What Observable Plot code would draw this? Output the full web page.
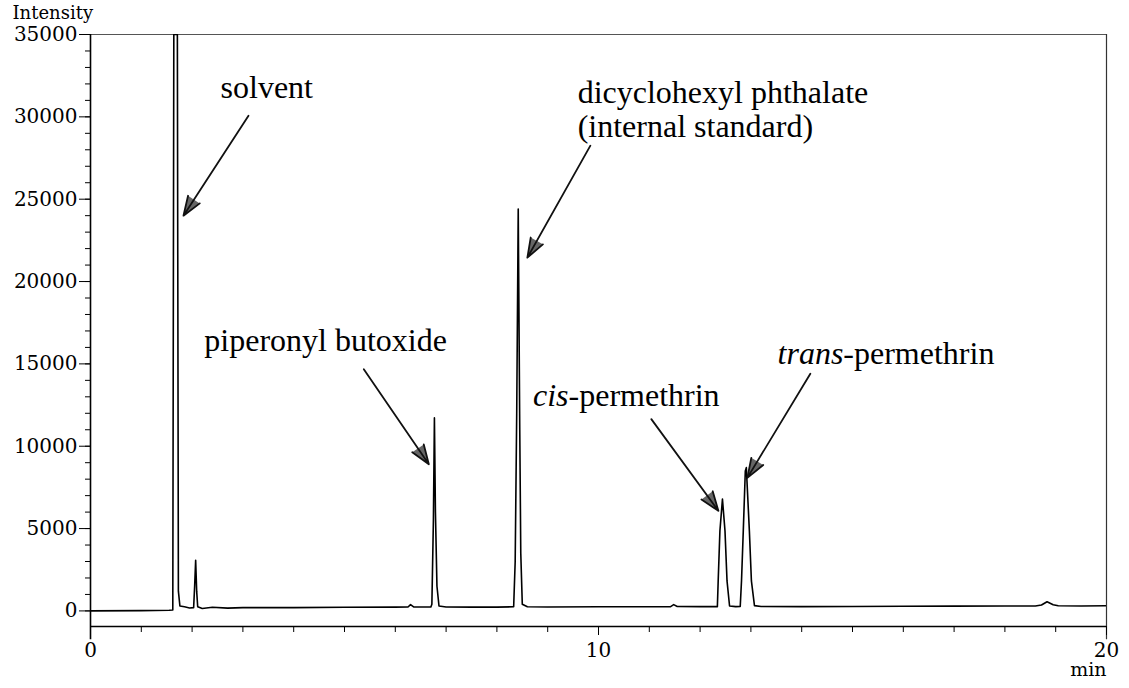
<!DOCTYPE html>
<html>
<head>
<meta charset="utf-8">
<script src="https://cdn.jsdelivr.net/npm/d3@7"></script>
<script src="https://cdn.jsdelivr.net/npm/@observablehq/plot@0.6"></script>
<style>
  html, body { margin: 0; padding: 0; background: #fff; }
  #chart svg { display: block; }
</style>
</head>
<body>
<div id="chart"></div>
<script>
// ---- chromatogram trace (retention time in min, intensity) ----
const time = [0, 1.0, 1.55, 1.62, 1.64, 1.71, 1.73, 1.76, 1.85, 1.95, 2.03, 2.05, 2.07, 2.09, 2.11, 2.2, 2.4, 2.7, 3.0, 4.0, 5.0, 6.0,
  6.25, 6.30, 6.36, 6.70, 6.72, 6.75, 6.77, 6.79, 6.82, 6.86, 7.0, 7.5, 8.0,
  8.33, 8.36, 8.39, 8.42, 8.45, 8.47, 8.50, 8.6, 9.0, 10.0, 11.0, 11.42, 11.48, 11.55, 12.0,
  12.34, 12.356, 12.39, 12.44, 12.49, 12.53, 12.58, 12.70,
  12.79, 12.815, 12.85, 12.89, 12.91, 12.97, 13.01, 13.07, 13.2,
  14.0, 15.0, 16.0, 17.0, 18.0, 18.6, 18.72, 18.83, 18.95, 19.05, 19.5, 20.0];
const intensity = [0, 20, 40, 60, 35000, 35000, 1200, 300, 250, 180, 200, 1500, 3080, 1200, 250, 150, 220, 170, 200, 200, 220, 230,
  240, 380, 240, 240, 400, 5500, 11720, 6000, 1500, 300, 240, 230, 230,
  250, 3000, 12000, 24400, 11000, 3500, 400, 250, 240, 250, 250, 260, 380, 270, 260,
  260, 1820, 4860, 6790, 4860, 1820, 300, 260,
  270, 1820, 4860, 8500, 8700, 4860, 1820, 320, 270,
  260, 270, 280, 290, 300, 300, 360, 560, 380, 310, 300, 310];

// ---- axes ----
const yTicks = [0, 5000, 10000, 15000, 20000, 25000, 30000, 35000];
const yMinorTicks = d3.range(0, 35001, 1000);
const xTicks = [0, 10, 20];
const xMinorTicks = d3.range(0, 21, 1);
const yAxisTitle = "Intensity";
const xAxisTitle = "min";

// ---- annotations (label anchor in data units: time, intensity) ----
const labelText = ["solvent", "dicyclohexyl phthalate\n(internal standard)", "piperonyl butoxide"];
const labelTime = [2.56, 9.59, 2.24];
const labelIntensity = [31165, 28800, 15800];

const italicPrefix = ["cis", "trans"];
const italicRest = ["-permethrin", "-permethrin"];
const italicSplitTime = [9.41, 14.82];
const italicIntensity = [12450, 15000];

const arrowTime1 = [3.11, 9.84, 5.38, 11.04, 14.17];
const arrowInt1 = [30070, 28250, 14680, 11645, 14400];
const arrowTime2 = [1.83, 8.60, 6.66, 12.36, 12.93];
const arrowInt2 = [24000, 21450, 8910, 6075, 8080];

// ---- build tables ----
const trace = time.map((t, i) => ({t, v: intensity[i]}));
const labels = labelText.map((s, i) => ({s, x: labelTime[i], y: labelIntensity[i]}));
const italics = italicPrefix.map((p, i) => ({p, r: italicRest[i], x: italicSplitTime[i], y: italicIntensity[i]}));
const arrows = arrowTime1.map((x1, i) => ({x1, y1: arrowInt1[i], x2: arrowTime2[i], y2: arrowInt2[i]}));

const serif = "'Liberation Serif', 'Times New Roman', serif";
const axisFont = "'DejaVu Serif', serif";

const plot = Plot.plot({
  width: 1129,
  height: 688,
  marginLeft: 90,
  marginRight: 23,
  marginTop: 34,
  marginBottom: 62,
  x: {domain: [0, 20]},
  y: {domain: [-946, 35000]},
  style: {fontFamily: axisFont, fontSize: "20px", color: "#000", background: "#fff"},
  marks: [
    // frame lines
    Plot.ruleY([35000], {x1: 0, x2: 20, stroke: "#555", strokeWidth: 1.2}),
    Plot.ruleX([20], {y1: -1750, y2: 35000, stroke: "#333", strokeWidth: 1.2}),
    Plot.ruleX([0], {y1: -1750, y2: 35000, stroke: "#000", strokeWidth: 1.6}),
    Plot.ruleY([-946], {x1: 0, x2: 20, stroke: "#000", strokeWidth: 1.4}),
    // y axis
    Plot.axisY(yMinorTicks, {tickSize: 5, tickFormat: () => "", label: null, stroke: "#000"}),
    Plot.axisY(yTicks, {tickSize: 11, tickPadding: 2, label: null, tickFormat: d => String(d), stroke: "#000", fontFamily: axisFont, fontSize: 20}),
    // x axis
    Plot.axisX(xMinorTicks, {tickSize: 6, tickFormat: () => "", label: null, stroke: "#000"}),
    Plot.axisX(xTicks, {tickSize: 9, tickPadding: 7, label: null, tickFormat: d => String(d), stroke: "#000", fontFamily: axisFont, fontSize: 20}),
    Plot.text([yAxisTitle], {text: d => d, frameAnchor: "top-left", dx: -78, dy: -16, textAnchor: "start", lineAnchor: "bottom", fontFamily: axisFont, fontSize: 18}),
    Plot.text([xAxisTitle], {text: d => d, frameAnchor: "bottom-right", dx: 0, dy: 49, textAnchor: "end", lineAnchor: "bottom", fontFamily: axisFont, fontSize: 19}),
    // chromatogram
    Plot.line(trace, {x: "t", y: "v", stroke: "#000", strokeWidth: 1.6, clip: true, curve: "linear"}),
    // annotations
    Plot.arrow(arrows, {x1: "x1", y1: "y1", x2: "x2", y2: "y2", headLength: 17, headAngle: 40, fill: "#666", stroke: "#111", strokeWidth: 1.8, insetEnd: 0}),
    Plot.text(labels, {x: "x", y: "y", text: "s", textAnchor: "start", lineAnchor: "bottom", lineHeight: 1.06, fontFamily: serif, fontSize: 32, fill: "#000"}),
    Plot.text(italics, {x: "x", y: "y", text: "p", textAnchor: "end", lineAnchor: "bottom", fontStyle: "italic", fontFamily: serif, fontSize: 32, fill: "#000"}),
    Plot.text(italics, {x: "x", y: "y", text: "r", textAnchor: "start", lineAnchor: "bottom", fontFamily: serif, fontSize: 32, fill: "#000"})
  ]
});
// tick labels in the serif face of the original instrument print-out
d3.select(plot).selectAll('g[aria-label$="tick label"]')
  .attr("font-family", axisFont).attr("font-size", 20)
  .style("font-family", axisFont).style("font-size", "20px")
  .selectAll("text").style("font-family", axisFont);
document.getElementById("chart").appendChild(plot);
</script>
</body>
</html>
